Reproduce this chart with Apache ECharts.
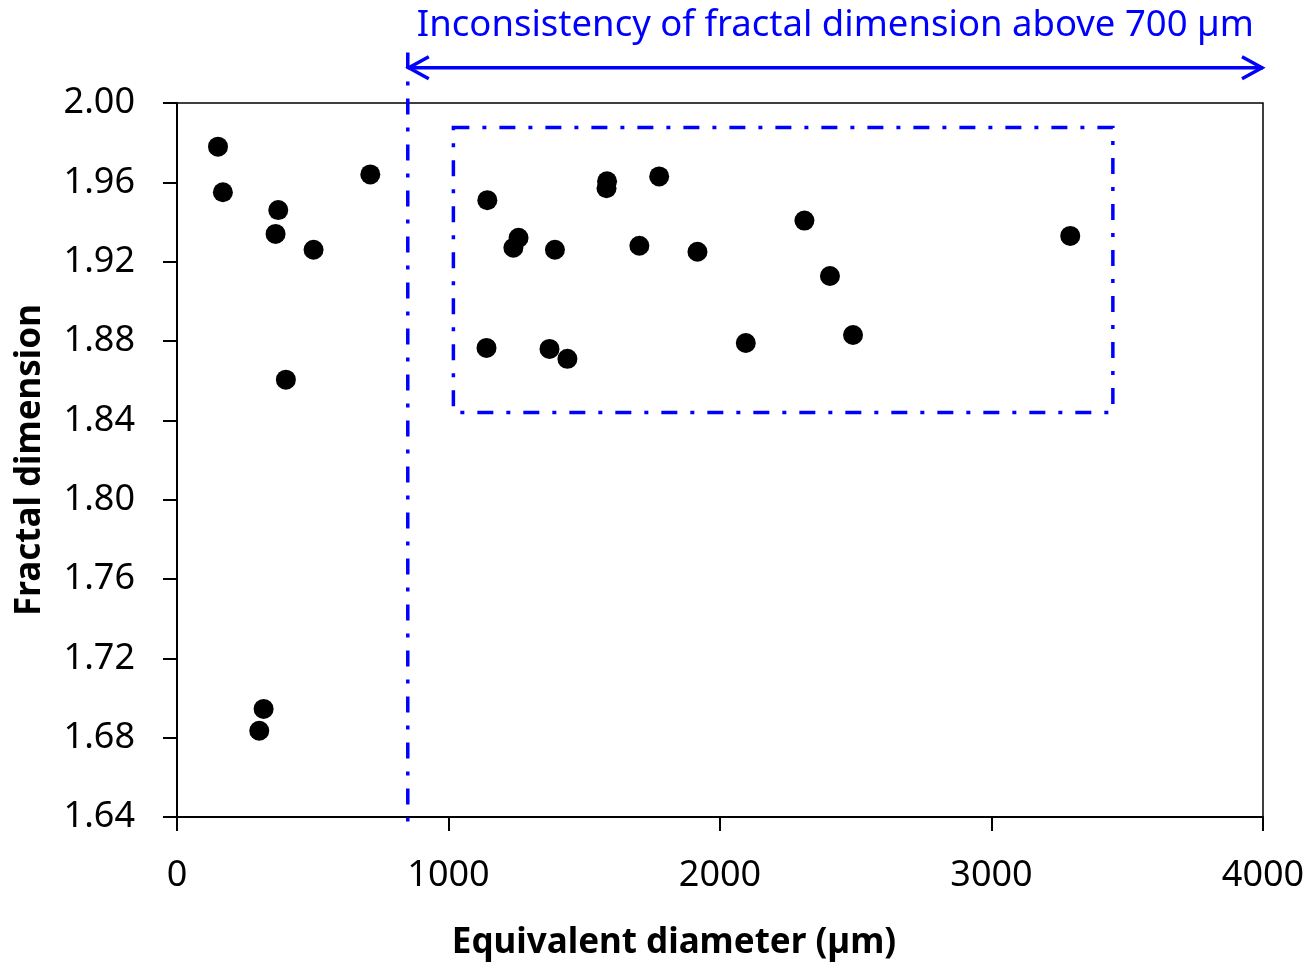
<!DOCTYPE html>
<html><head><meta charset="utf-8">
<script src="https://cdn.jsdelivr.net/npm/echarts@6/dist/echarts.min.js"></script>
<style>html,body{margin:0;padding:0;background:#fff}#c{width:1312px;height:964px}</style>
</head><body><div id="c"></div>
<script>
// ---- data ----
const diameter = [151, 169, 712, 373, 363, 503, 401, 319, 303,
  1143, 1258, 1239, 1392, 1584, 1582, 1776, 1703, 1917, 2311, 2405, 2490, 2095, 1140, 1372, 1438, 3290];
const fractalDim = [1.978, 1.955, 1.964, 1.946, 1.934, 1.926, 1.8605, 1.6945, 1.6835,
  1.951, 1.932, 1.927, 1.926, 1.9605, 1.957, 1.963, 1.928, 1.925, 1.9407, 1.9128, 1.883, 1.879, 1.8765, 1.876, 1.871, 1.933];
const xTicks = [0, 1000, 2000, 3000, 4000];
const yTicks = [1.64, 1.68, 1.72, 1.76, 1.80, 1.84, 1.88, 1.92, 1.96, 2.00];
// annotation geometry in data units
const thresholdX = 850;
const thresholdY = [1.632, 2.0254];
const arrowX = [850, 4000];
const arrowY = 2.0178;
const boxX = [1018, 3447];
const boxY = [1.844, 1.9877];
const annotationText = 'Inconsistency of fractal dimension above 700 µm';
const xTitle = 'Equivalent diameter (µm)';
const yTitle = 'Fractal dimension';

const FONT = '"Noto Sans", "Open Sans", sans-serif';
const BLUE = '#0000FF';
const chart = echarts.init(document.getElementById('c'), null, {renderer: 'canvas'});

const points = diameter.map((x, i) => [x, fractalDim[i]]);

chart.setOption({
  animation: false,
  backgroundColor: '#fff',
  grid: {left: 177, right: 49, top: 103, bottom: 147, show: true, borderColor: '#000', borderWidth: 1.5,
    containLabel: false, outerBoundsMode: 'none'},
  xAxis: {
    type: 'value', min: xTicks[0], max: xTicks[xTicks.length - 1], interval: xTicks[1] - xTicks[0],
    splitLine: {show: false},
    axisLine: {show: true, onZero: false, lineStyle: {color: '#000', width: 2}},
    axisTick: {show: true, inside: false, length: 14, lineStyle: {color: '#000', width: 2}},
    axisLabel: {margin: 41, fontSize: 36, fontFamily: FONT, color: '#000', formatter: v => String(v)},
    name: xTitle, nameLocation: 'middle', nameGap: 109,
    nameTextStyle: {fontSize: 35, fontWeight: 'bold', fontFamily: FONT, color: '#000', padding: [0, 92, 0, 0]}
  },
  yAxis: {
    type: 'value', min: yTicks[0], max: yTicks[yTicks.length - 1], interval: 0.04,
    splitLine: {show: false},
    axisLine: {show: true, onZero: false, lineStyle: {color: '#000', width: 2}},
    axisTick: {show: true, inside: false, length: 14, lineStyle: {color: '#000', width: 2}},
    axisLabel: {margin: 42, fontSize: 36, fontFamily: FONT, color: '#000', formatter: v => v.toFixed(2)},
    name: yTitle, nameLocation: 'middle', nameGap: 129,
    nameTextStyle: {fontSize: 35, fontWeight: 'bold', fontFamily: FONT, color: '#000'}
  },
  series: [
    {
      type: 'custom', clip: false, silent: true, z: 1,
      data: [[thresholdX, arrowY]],
      renderItem: function (params, api) {
        const vTop = api.coord([thresholdX, thresholdY[1]]);
        const vBot = api.coord([thresholdX, thresholdY[0]]);
        const aL = api.coord([arrowX[0], arrowY]);
        const aR = api.coord([arrowX[1], arrowY]);
        const b1 = api.coord([boxX[0], boxY[1]]);
        const b2 = api.coord([boxX[1], boxY[0]]);
        const dash = [16, 13, 4, 13];
        return {
          type: 'group', children: [
            {type: 'line', shape: {x1: vTop[0], y1: vTop[1], x2: vBot[0], y2: vBot[1]},
              style: {stroke: BLUE, lineWidth: 3.5, lineDash: dash, fill: null}},
            {type: 'rect', shape: {x: b1[0], y: b1[1], width: b2[0] - b1[0], height: b2[1] - b1[1]},
              style: {stroke: BLUE, lineWidth: 3.5, lineDash: dash, fill: null}},
            {type: 'line', shape: {x1: aL[0], y1: aL[1], x2: aR[0], y2: aR[1]},
              style: {stroke: BLUE, lineWidth: 3.5, fill: null}},
            {type: 'polyline', shape: {points: [[aL[0] + 21, aL[1] - 11], [aL[0] + 1, aL[1]], [aL[0] + 21, aL[1] + 11]]},
              style: {stroke: BLUE, lineWidth: 3.5, fill: null}},
            {type: 'polyline', shape: {points: [[aR[0] - 21, aR[1] - 11], [aR[0] - 1, aR[1]], [aR[0] - 21, aR[1] + 11]]},
              style: {stroke: BLUE, lineWidth: 3.5, fill: null}},
            {type: 'text', x: (aL[0] + aR[0]) / 2, y: aL[1] - 42,
              style: {text: annotationText, fill: BLUE, fontSize: 36.5, fontFamily: FONT,
                align: 'center', verticalAlign: 'middle', textAlign: 'center', textVerticalAlign: 'middle'}}
          ]
        };
      }
    },
    {
      type: 'scatter', z: 3, symbol: 'circle', symbolSize: 20,
      itemStyle: {color: '#000', opacity: 1},
      data: points
    }
  ]
});
</script></body></html>
